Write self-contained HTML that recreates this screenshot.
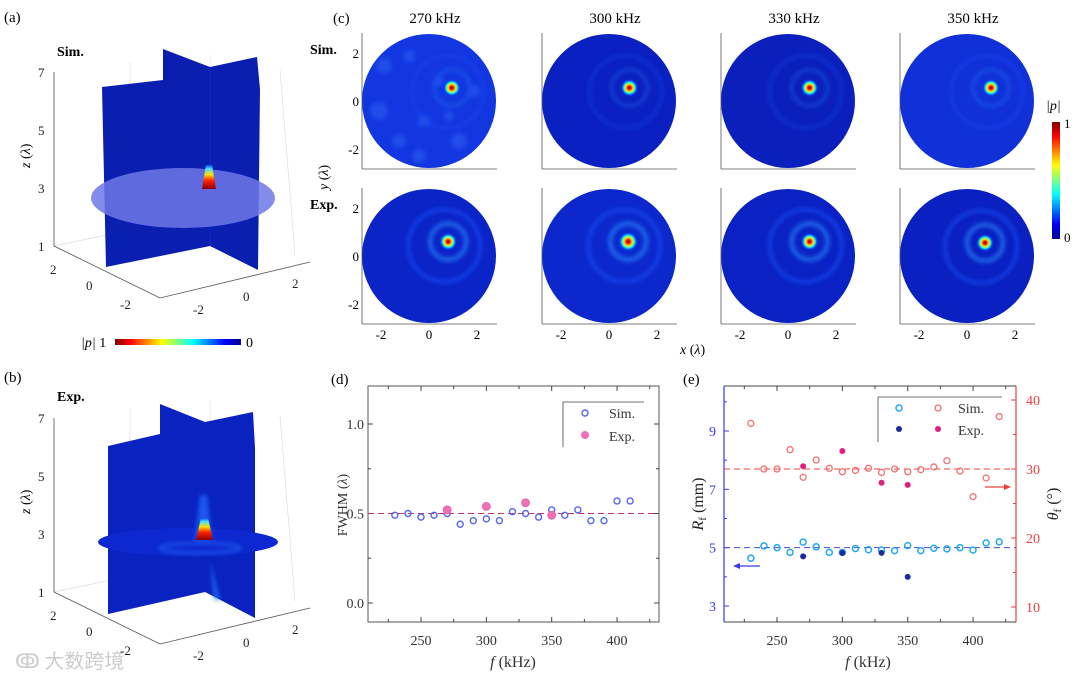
<!DOCTYPE html>
<html><head><meta charset="utf-8">
<style>
html,body{margin:0;padding:0;background:#fff;}
svg{display:block;font-family:"Liberation Serif","Noto Serif CJK SC",serif;}
</style></head>
<body>
<svg id="fig" width="1080" height="678" viewBox="0 0 1080 678" xmlns="http://www.w3.org/2000/svg">
<defs>
  <radialGradient id="hot">
    <stop offset="0" stop-color="#7a0000"/>
    <stop offset="0.2" stop-color="#ff1000"/>
    <stop offset="0.4" stop-color="#ffe000"/>
    <stop offset="0.6" stop-color="#30ffd0"/>
    <stop offset="0.8" stop-color="#0060ff" stop-opacity="0.8"/>
    <stop offset="1" stop-color="#0030e0" stop-opacity="0"/>
  </radialGradient>
  <linearGradient id="jetV" x1="0" y1="0" x2="0" y2="1">
    <stop offset="0" stop-color="#800000"/><stop offset="0.12" stop-color="#ff0000"/>
    <stop offset="0.37" stop-color="#ffff00"/><stop offset="0.62" stop-color="#00ffff"/>
    <stop offset="0.87" stop-color="#0000ff"/><stop offset="1" stop-color="#00008f"/>
  </linearGradient>
  <linearGradient id="jetH" x1="0" y1="0" x2="1" y2="0">
    <stop offset="0" stop-color="#800000"/><stop offset="0.12" stop-color="#ff0000"/>
    <stop offset="0.37" stop-color="#ffff00"/><stop offset="0.62" stop-color="#00ffff"/>
    <stop offset="0.87" stop-color="#0000ff"/><stop offset="1" stop-color="#00008f"/>
  </linearGradient>
  <linearGradient id="cone" x1="0" y1="1" x2="0" y2="0">
    <stop offset="0" stop-color="#8a0000"/><stop offset="0.35" stop-color="#ff2000"/>
    <stop offset="0.6" stop-color="#ffe000"/><stop offset="0.85" stop-color="#40e0ff"/>
    <stop offset="1" stop-color="#1040ff"/>
  </linearGradient>
  <filter id="blur2"><feGaussianBlur stdDeviation="2"/></filter>
</defs>

<!-- Panel (a) -->
<g>
  <text x="4" y="22" font-size="15">(a)</text>
  <text x="57" y="56" font-size="14" font-weight="bold">Sim.</text>
  <g stroke="#ddd" stroke-width="0.7" fill="none">
    <path d="M54,72 L54,246 L160,298 M54,246 L250,205 M130,62 L130,240 M210,55 L210,230 M280,70 L295,255"/>
  </g>
  <line x1="54" y1="72" x2="54" y2="246" stroke="#555" stroke-width="0.8"/>
  <path d="M54,246 L160,298 L310,262" stroke="#555" fill="none" stroke-width="0.8"/>
  <g font-size="13" fill="#222">
    <text x="38" y="77">7</text><text x="38" y="135">5</text><text x="38" y="193">3</text><text x="38" y="251">1</text>
    <text x="50" y="274">2</text><text x="86" y="290">0</text><text x="120" y="309">-2</text>
    <text x="193" y="314">-2</text><text x="243" y="301">0</text><text x="292" y="288">2</text>
  </g>
  <text transform="translate(30,168) rotate(-90)" font-size="14"><tspan font-style="italic">z</tspan> (<tspan font-style="italic">λ</tspan>)</text>
  <polygon points="102,87 163,80 163,49 210,67 257,57 260,89 258,270 210,246 106,267" fill="#0a1fb0"/>
  <line x1="210" y1="67" x2="210" y2="246" stroke="#0a2ac8" stroke-width="1"/>
  <ellipse cx="183" cy="198" rx="92" ry="30" fill="#6f78e8" opacity="0.85"/>
  <path d="M202,189 L206,165 L212,165 L216,189 Z" fill="url(#cone)"/>
  <rect x="115" y="339" width="126" height="6" fill="url(#jetH)"/>
  <text x="81" y="347" font-size="14"><tspan font-style="italic">|p|</tspan> 1</text>
  <text x="246" y="347" font-size="14">0</text>
</g>

<!-- Panel (b) -->
<g>
  <text x="4" y="382" font-size="15">(b)</text>
  <text x="57" y="401" font-size="14" font-weight="bold">Exp.</text>
  <g stroke="#ddd" stroke-width="0.7" fill="none">
    <path d="M54,418 L54,592 L160,644 M54,592 L250,551 M130,408 L130,586 M210,401 L210,576 M280,416 L295,601"/>
  </g>
  <line x1="54" y1="418" x2="54" y2="592" stroke="#555" stroke-width="0.8"/>
  <path d="M54,592 L160,644 L310,608" stroke="#555" fill="none" stroke-width="0.8"/>
  <g font-size="13" fill="#222">
    <text x="38" y="423">7</text><text x="38" y="481">5</text><text x="38" y="539">3</text><text x="38" y="597">1</text>
    <text x="50" y="620">2</text><text x="86" y="636">0</text><text x="120" y="655">-2</text>
    <text x="193" y="660">-2</text><text x="243" y="647">0</text><text x="292" y="634">2</text>
  </g>
  <text transform="translate(30,514) rotate(-90)" font-size="14"><tspan font-style="italic">z</tspan> (<tspan font-style="italic">λ</tspan>)</text>
  <polygon points="108,446 160,434 160,404 205,422 253,412 255,448 255,618 205,592 108,614" fill="#0a22c0"/>
  <ellipse cx="188" cy="542" rx="90" ry="14" fill="#0d28d0"/>
  <g filter="url(#blur2)" opacity="0.7">
    <path d="M195,540 L200,495 L207,495 L212,540 Z" fill="#2070ff"/>
    <ellipse cx="200" cy="548" rx="40" ry="5" fill="none" stroke="#2a80ff" stroke-width="2"/>
    <path d="M210,560 L214,600 L220,600 Z" fill="#2080ff"/>
  </g>
  <path d="M196,540 L201,518 L208,518 L213,540 Z" fill="url(#cone)"/>
  <text x="15" y="668" font-size="20" fill="#ccc" font-family="'Noto Sans CJK SC',sans-serif">ↂ 大数跨境</text>
</g>

<!-- Panel (c) -->
<g id="panelC">
  <text x="333" y="23" font-size="15">(c)</text>
  <text x="310" y="54" font-size="14" font-weight="bold">Sim.</text>
  <text x="310" y="209" font-size="14" font-weight="bold">Exp.</text>
  <text transform="translate(328,190) rotate(-90)" font-size="14"><tspan font-style="italic">y</tspan> (<tspan font-style="italic">λ</tspan>)</text>
  <text x="680" y="354" font-size="14"><tspan font-style="italic">x</tspan> (<tspan font-style="italic">λ</tspan>)</text>
  <rect x="1052" y="122" width="8" height="117" fill="url(#jetV)"/>
  <text x="1046" y="110" font-size="14" font-style="italic">|p|</text>
  <text x="1064" y="128" font-size="13">1</text>
  <text x="1064" y="242" font-size="13">0</text>
</g>

<!-- Panel (d) -->
<g id="panelD">
  <text x="331" y="384" font-size="15">(d)</text>
</g>
<!-- Panel (e) -->
<g id="panelE">
  <text x="683" y="384" font-size="15">(e)</text>
</g>
</svg>

<script>
const NS = "http://www.w3.org/2000/svg";
// ---- Panel (c) data ----
const freqLabels = ["270 kHz","300 kHz","330 kHz","350 kHz"];
const simFocusX = [0.95, 0.85, 0.9, 1.0];
const simFocusY = [0.55, 0.55, 0.55, 0.55];
const expFocusX = [0.8, 0.8, 0.9, 0.75];
const expFocusY = [0.6, 0.6, 0.6, 0.55];
const simBackground = ["#1236e0","#0a20c0","#0a1fbb","#1030d8"];
const expBackground = ["#0b24c8","#0c28cc","#0a22c4","#0a20c0"];
const xTickVals = [-2, 0, 2];
const yTickVals = [2, 0, -2];

// ---- Panel (d) data ----
const fwhmFreq = [230,240,250,260,270,280,290,300,310,320,330,340,350,360,370,380,390,400,410];
const fwhmSim = [0.49,0.50,0.48,0.49,0.50,0.44,0.46,0.47,0.46,0.51,0.50,0.48,0.52,0.49,0.52,0.46,0.46,0.57,0.57];
const fwhmExpFreq = [270,300,330,350];
const fwhmExp = [0.52,0.54,0.56,0.49];
const dXTicks = [250,300,350,400];
const dYTicks = [0.0,0.5,1.0];

// ---- Panel (e) data ----
const eFreq = [230,240,250,260,270,280,290,300,310,320,330,340,350,360,370,380,390,400,410,420];
const rfSim = [4.64,5.06,5.0,4.84,5.19,5.03,4.84,4.84,4.97,4.93,4.92,4.9,5.07,4.9,4.98,4.96,5.0,4.92,5.16,5.2];
const thetaSim = [36.6,30.0,30.0,32.8,28.8,31.3,30.1,29.6,29.8,30.1,29.5,30.0,29.6,29.9,30.3,31.2,29.7,26.0,28.7,37.6];
const eExpFreq = [270,300,330,350];
const rfExp = [4.7,4.82,4.82,4.0];
const thetaExp = [30.4,32.6,28.0,27.7];
const eXTicks = [250,300,350,400];
const rfTicks = [3,5,7,9];
const thetaTicks = [10,20,30,40];

function mk(tag, attrs, parent){ const e=document.createElementNS(NS,tag); for(const k in attrs) e.setAttribute(k,attrs[k]); parent.appendChild(e); return e; }

// ---------- Panel C ----------
(function(){
  const g = document.getElementById('panelC');
  const colLeft = [362,542,721,900];
  const rowCY = [101, 256];
  const R = 67;
  const unit = 24;
  const blobs = [[-45,-35,8],[-20,-45,6],[-50,10,9],[-30,40,7],[-5,20,6],[10,-20,5],[30,40,8],[45,-10,6],[-10,55,7],[20,15,5]];
  for(let r=0;r<2;r++){
    for(let c=0;c<4;c++){
      const ax = colLeft[c], cx = ax+67, cy = rowCY[r];
      const sx = v => cx + v*unit;
      const sy = v => cy - v*unit;
      const sub = mk('g',{},g);
      
      
      const bg = r===0 ? simBackground[c] : expBackground[c];
      mk('circle',{cx:cx,cy:cy,r:R,fill:bg},sub);
      const ring = mk('g',{filter:'url(#blur2)',opacity: r===0?0.35:0.7},sub);
      const fx = r===0? simFocusX[c]:expFocusX[c], fy = r===0? simFocusY[c]:expFocusY[c];
      mk('circle',{cx:sx(fx),cy:sy(fy),r:18,fill:'none',stroke:'#2a8cff','stroke-width': r===0?3:4},ring);
      mk('circle',{cx:sx(fx)-4,cy:sy(fy)+4,r:36,fill:'none',stroke:'#1a55ff','stroke-width':3},ring);
      if(r===0 && c===0){
        blobs.forEach(b=>{ mk('circle',{cx:cx+b[0], cy:cy+b[1], r:b[2], fill:'#3a78ff'},ring); });
      }
      mk('circle',{cx:sx(fx),cy:sy(fy),r: r===1&&c===1?10:9,fill:'url(#hot)'},sub);
      mk('line',{x1:ax,y1:cy-R-1,x2:ax,y2:cy+R+1,stroke:'#555','stroke-width':0.8},sub);
      mk('line',{x1:ax,y1:cy+R+1,x2:ax+135,y2:cy+R+1,stroke:'#555','stroke-width':0.8},sub);
      if(c===0){
        yTickVals.forEach(v=>{ const t=mk('text',{x:ax-3,y:sy(v)+5,'font-size':13,'text-anchor':'end'},sub); t.textContent=v; });
      }
      if(r===1){
        xTickVals.forEach(v=>{ const t=mk('text',{x:sx(v),y:339,'font-size':13,'text-anchor':'middle'},sub); t.textContent=v; });
      }
      if(r===0){
        const t=mk('text',{x:cx+6,y:23,'font-size':15,'text-anchor':'middle'},sub);
        
        
        t.textContent=freqLabels[c];
      }
    }
  }
})();

// ---------- Panel D ----------
(function(){
  const g = document.getElementById('panelD');
  const L=368,R=659,T=386,B=622;
  const X = v => 421 + (v-250)*1.307;
  const Y = v => 603 - v*179;
  mk('rect',{x:L,y:T,width:R-L,height:B-T,fill:'none',stroke:'#444','stroke-width':0.9},g);
  for(let v=225;v<=425;v+=25){ const len = v%50===0?5:3; mk('line',{x1:X(v),y1:B,x2:X(v),y2:B-len,stroke:'#444'},g); mk('line',{x1:X(v),y1:T,x2:X(v),y2:T+len,stroke:'#444'},g); }
  [0,0.25,0.5,0.75,1.0].forEach(v=>{ const len = (v*4)%2===0?5:3; mk('line',{x1:L,y1:Y(v),x2:L+len,y2:Y(v),stroke:'#444'},g); mk('line',{x1:R,y1:Y(v),x2:R-len,y2:Y(v),stroke:'#444'},g); });
  dXTicks.forEach(v=>{ const t=mk('text',{x:X(v),y:645,'font-size':14,'text-anchor':'middle',fill:'#333'},g); t.textContent=v; });
  dYTicks.forEach(v=>{ const t=mk('text',{x:L-4,y:Y(v)+5,'font-size':14,'text-anchor':'end',fill:'#333'},g); t.textContent=v.toFixed(1); });
  const yl = mk('text',{transform:'translate(347,505) rotate(-90)','font-size':14,'text-anchor':'middle',fill:'#333'},g);
   
  yl.innerHTML = 'FWHM (<tspan font-style="italic">λ</tspan>)';
  const xl = mk('text',{x:513,y:667,'font-size':16,'text-anchor':'middle',fill:'#333'},g);
   
  xl.innerHTML = '<tspan font-style="italic">f</tspan> (kHz)';
  mk('line',{x1:L,y1:Y(0.5),x2:R,y2:Y(0.5),stroke:'#c0306a','stroke-width':1,'stroke-dasharray':'6 4'},g);
  fwhmFreq.forEach((f,i)=>{
    const c=mk('circle',{cx:X(f),cy:Y(fwhmSim[i]),r:3,fill:'none',stroke:'#5566ee','stroke-width':1.4},g);
     
  });
  fwhmExpFreq.forEach((f,i)=>{
    const c=mk('circle',{cx:X(f),cy:Y(fwhmExp[i]),r:4,fill:'#f070b8',stroke:'#e060a8','stroke-width':0.8},g);
     
  });
  const lg = mk('g',{},g);
   
  mk('path',{d:'M563,447 L563,402 L644,402',fill:'none',stroke:'#444','stroke-width':0.8},lg);
  mk('circle',{cx:585,cy:413,r:3,fill:'none',stroke:'#5566ee','stroke-width':1.4},lg);
  mk('circle',{cx:585,cy:435,r:4,fill:'#f070b8'},lg);
  let t=mk('text',{x:609,y:418,'font-size':14,fill:'#333'},lg); t.textContent='Sim.';
  t=mk('text',{x:609,y:441,'font-size':14,fill:'#333'},lg); t.textContent='Exp.';
})();

// ---------- Panel E ----------
(function(){
  const g = document.getElementById('panelE');
  const L=724,R=1016,T=386,B=622;
  const X = v => 777 + (v-250)*1.307;
  const YL = v => 431 - (v-9)*29.17;
  const YR = v => 400 - (v-40)*6.9;
  const blue='#3a3aee', red='#ee4040';
  mk('line',{x1:L,y1:B,x2:R,y2:B,stroke:'#444','stroke-width':0.9},g);
  mk('line',{x1:L,y1:T,x2:R,y2:T,stroke:'#444','stroke-width':0.9},g);
  mk('line',{x1:L,y1:T,x2:L,y2:B,stroke:blue,'stroke-width':1.2},g);
  mk('line',{x1:R,y1:T,x2:R,y2:B,stroke:red,'stroke-width':1.2},g);
  for(let v=225;v<=425;v+=25){ const len=v%50===0?5:3; mk('line',{x1:X(v),y1:B,x2:X(v),y2:B-len,stroke:'#444'},g); mk('line',{x1:X(v),y1:T,x2:X(v),y2:T+len,stroke:'#444'},g); }
  for(let v=3;v<=10;v++){ mk('line',{x1:L,y1:YL(v),x2:L+(v%2?5:3),y2:YL(v),stroke:blue},g); }
  for(let v=10;v<=40;v+=5){ mk('line',{x1:R,y1:YR(v),x2:R-(v%10?3:5),y2:YR(v),stroke:red},g); }
  eXTicks.forEach(v=>{ const t=mk('text',{x:X(v),y:645,'font-size':14,'text-anchor':'middle',fill:'#333'},g); t.textContent=v; });
  rfTicks.forEach(v=>{ const t=mk('text',{x:L-8,y:YL(v)+5,'font-size':14,'text-anchor':'end',fill:blue},g); t.textContent=v; });
  thetaTicks.forEach(v=>{ const t=mk('text',{x:R+10,y:YR(v)+5,'font-size':14,fill:red},g); t.textContent=v; });
  const yl = mk('text',{transform:'translate(703,504) rotate(-90)','font-size':16,'text-anchor':'middle',fill:'#222'},g);
   
  yl.innerHTML = '<tspan font-style="italic">R</tspan><tspan font-size="11" dy="3">f</tspan><tspan dy="-3"> (mm)</tspan>';
  const yr = mk('text',{transform:'translate(1058,504) rotate(-90)','font-size':16,'text-anchor':'middle',fill:'#222'},g);
   
  yr.innerHTML = '<tspan font-style="italic">θ</tspan><tspan font-size="11" dy="3">f</tspan><tspan dy="-3"> (°)</tspan>';
  const xl = mk('text',{x:868,y:667,'font-size':16,'text-anchor':'middle',fill:'#333'},g);
   
  xl.innerHTML = '<tspan font-style="italic">f</tspan> (kHz)';
  mk('line',{x1:L,y1:YL(5),x2:R,y2:YL(5),stroke:'#4a4ad8','stroke-width':1,'stroke-dasharray':'6 4'},g);
  mk('line',{x1:L,y1:YR(30),x2:R,y2:YR(30),stroke:red,'stroke-width':1,'stroke-dasharray':'6 4'},g);
  eFreq.forEach((f,i)=>{
    const a=mk('circle',{cx:X(f),cy:YR(thetaSim[i]),r:3,fill:'none',stroke:'#f07070','stroke-width':1.3},g);
     
    const b=mk('circle',{cx:X(f),cy:YL(rfSim[i]),r:3,fill:'none',stroke:'#20a8f0','stroke-width':1.5},g);
     
  });
  eExpFreq.forEach((f,i)=>{
    const a=mk('circle',{cx:X(f),cy:YR(thetaExp[i]),r:3,fill:'#e0207a'},g);
     
    const b=mk('circle',{cx:X(f),cy:YL(rfExp[i]),r:3,fill:'#1a2aa0'},g);
     
  });
  mk('line',{x1:760,y1:566,x2:738,y2:566,stroke:blue,'stroke-width':1.2},g);
  mk('polygon',{points:'733,566 740,563 740,569',fill:blue},g);
  mk('line',{x1:985,y1:487,x2:1006,y2:487,stroke:red,'stroke-width':1.2},g);
  mk('polygon',{points:'1011,487 1004,484 1004,490',fill:red},g);
  const lg = mk('g',{},g);
   
  mk('path',{d:'M878,442 L878,397 L1002,397',fill:'none',stroke:'#444','stroke-width':0.8},lg);
  mk('circle',{cx:899,cy:408,r:3,fill:'none',stroke:'#20a8f0','stroke-width':1.5},lg);
  mk('circle',{cx:938,cy:408,r:3,fill:'none',stroke:'#f07070','stroke-width':1.3},lg);
  mk('circle',{cx:899,cy:429,r:3,fill:'#1a2aa0'},lg);
  mk('circle',{cx:938,cy:429,r:3,fill:'#e0207a'},lg);
  let t=mk('text',{x:958,y:413,'font-size':14,fill:'#333'},lg); t.textContent='Sim.';
  t=mk('text',{x:958,y:435,'font-size':14,fill:'#333'},lg); t.textContent='Exp.';
})();
</script>
</body></html>
